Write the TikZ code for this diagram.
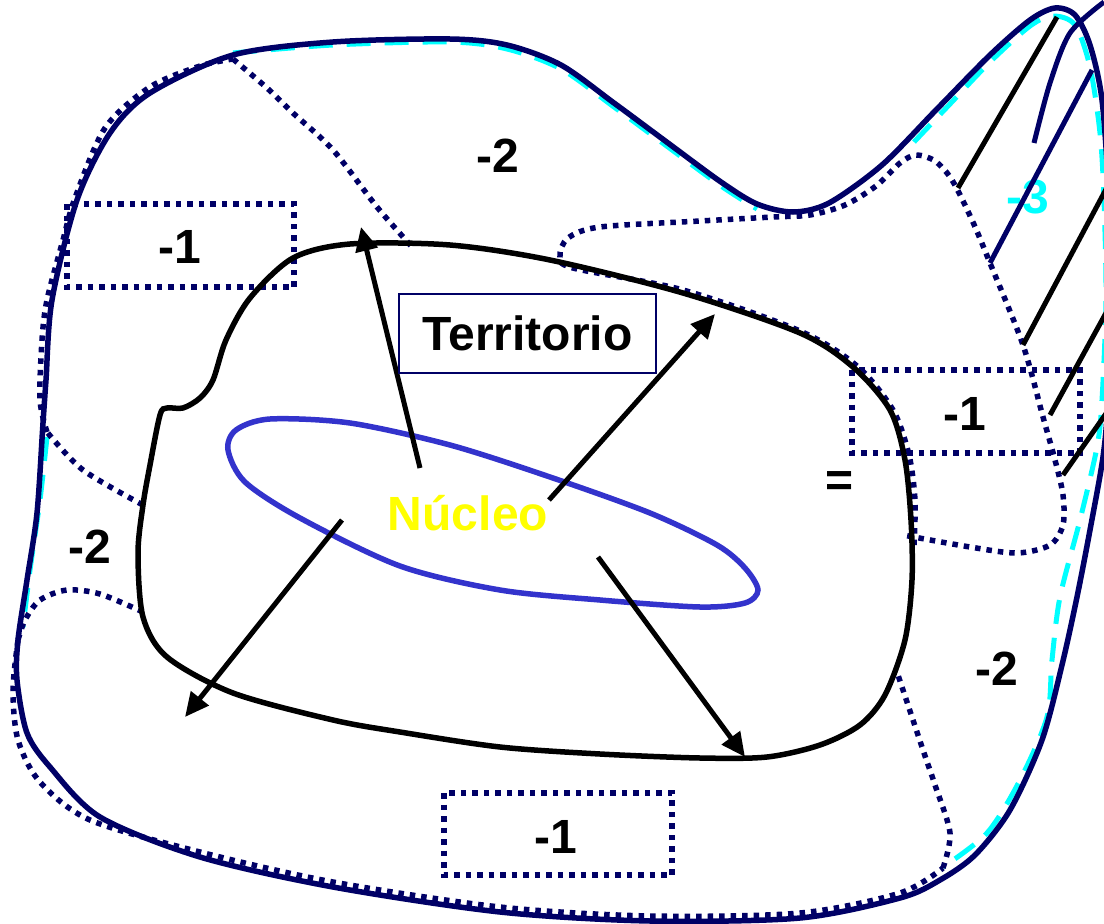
\documentclass[tikz,border=0pt]{standalone}
\usepackage{fontspec}
\setmainfont{Liberation Sans}
\usetikzlibrary{arrows.meta}
\definecolor{navy}{HTML}{000066}
\definecolor{cyn}{HTML}{00FFFF}
\definecolor{nucblue}{HTML}{3333CC}
\definecolor{yel}{HTML}{FFFF00}
\begin{document}
\begin{tikzpicture}[x=1pt,y=-1pt,
  outer/.style={draw=navy,line width=5.5pt},
  cyandash/.style={draw=cyn,line width=5pt,dash pattern=on 24pt off 14pt},
  dots/.style={draw=navy,line width=5.5pt,dash pattern=on 5.5pt off 6pt},
  terr/.style={draw=black,line width=5.5pt},
  hatchk/.style={draw=black,line width=5pt},
  hatchn/.style={draw=navy,line width=5pt},
  arr/.style={draw=black,line width=5pt,-{Triangle[length=24pt,width=22pt]}},
  lbl/.style={font=\fontsize{48}{48}\selectfont\bfseries,inner sep=0pt},
]
\useasboundingbox (0,0) rectangle (1104,924);
\clip (0,0) rectangle (1104,924);
\fill[white] (0,0) rectangle (1104,924);

% cyan dashed boundary pieces
\draw[cyandash] plot[smooth] coordinates {(233,53) (333,45) (450,42) (507,49) (561,69) (614,107) (668,147) (721,186) (757,209)};
\draw[cyandash] plot[smooth] coordinates {(914,142) (950,104) (990,62) (1030,26) (1053,16) (1075,25) (1090,67) (1100,133) (1104,200) (1106,300) (1102,400) (1097,447) (1080,520) (1060,597) (1052,660) (1047,717) (1020,780) (987,833) (943,867)};
\draw[cyandash] plot[smooth] coordinates {(47,437) (40,500) (30,570) (23,627)};

% dotted zone borders
\draw[dots] plot[smooth] coordinates {(143,505) (83,470) (47,432)};
\draw[dots] plot[smooth] coordinates {(47,432) (40,400) (42,340) (47,300) (63,240) (75,198) (105,128) (150,87) (200,66) (233,59)};
\draw[dots] plot[smooth] coordinates {(233,59) (267,88) (293,113) (333,150) (377,207) (413,248)};
\draw[dots] plot[smooth] coordinates {(143,612) (100,594) (67,590) (40,600) (25,620) (18,640)};
\draw[dots] plot[smooth] coordinates {(18,640) (13,690) (18,740) (40,782) (90,820) (200,852) (333,882) (500,907) (650,916) (800,913) (900,893) (943,868)};
\draw[dots] plot[smooth] coordinates {(943,868) (950,833) (935,785) (923,750) (898,675)};
\draw[dots] plot[smooth] coordinates {(914,545) (915,500) (909,455) (893,410) (857,366) (800,331) (683,290) (573,268) (560,256) (568,238) (600,227) (700,221) (773,217) (810,215) (845,205) (876,186) (900,163) (916,155) (935,161) (952,180) (972,220) (990,263) (1023,345) (1043,417) (1055,460) (1063,495) (1063,525) (1050,545) (1017,553) (970,547) (903,535)};

% dotted boxes
\draw[dots] (67,204) rectangle (294,287);
\draw[dots] (852,370) rectangle (1080,453);
\draw[dots] (444,793) rectangle (672,875);

% outer navy boundary
\draw[outer] plot[smooth cycle] coordinates {(233,55) (333,42) (450,39) (507,45) (561,65) (614,103) (668,143) (721,182) (757,204) (793,212) (829,203) (882,165) (936,110) (990,55) (1030,20) (1055,8) (1075,15) (1090,45) (1102,100) (1109,200) (1111,300) (1108,400) (1103,457) (1090,530) (1077,597) (1062,665) (1042,740) (1010,810) (975,855) (940,880) (900,898) (800,918) (650,921) (500,912) (333,887) (200,857) (100,817) (50,767) (27,733) (17,680) (18,640) (27,580) (37,513) (43,423) (46,380) (52,300) (77,200) (110,133) (150,93)};

% -3 label (under the hatch lines)
\node[lbl,anchor=base,text=cyn] (m3) at (1028,213) {-3};

% hatch lines (-3 zone)
\draw[hatchk] (958,188) -- (1057,17);
\draw[hatchn] (990,263) -- (1092,70);
\draw[hatchn] plot[smooth] coordinates {(1034,143) (1050,83) (1070,33) (1104,2)};
\draw[hatchk] (1023,345) -- (1112,178);
\draw[hatchk] (1050,415) -- (1112,302);
\draw[hatchk] (1063,475) -- (1112,405);

% territory outline
\draw[terr] plot[smooth cycle] coordinates {(160,415) (167,408) (183,408) (200,398) (213,380) (226,340) (250,298) (293,258) (350,244) (450,245) (550,260) (683,293) (800,333) (853,367) (890,410) (905,460) (911,520) (912,580) (905,640) (885,695) (860,725) (820,745) (767,757) (700,758) (600,754) (500,747) (400,732) (333,720) (233,693) (167,657) (143,617) (138,553) (143,505) (150,465)};

% nucleus
\draw[draw=nucblue,line width=5.5pt] plot[smooth cycle] coordinates {(228,450) (245,482) (300,518) (400,566) (500,590) (600,600) (700,607) (745,603) (758,590) (745,568) (717,545) (650,513) (550,477) (450,445) (350,423) (270,419) (236,430)};

% arrows
\coordinate (a1s) at (420,468); \coordinate (a1e) at (361,227);
\coordinate (a2s) at (549,500); \coordinate (a2e) at (715,314);
\coordinate (a3s) at (342,520); \coordinate (a3e) at (185,717);
\coordinate (a4s) at (598,557); \coordinate (a4e) at (745,757);
\draw[arr] (a1s) -- (a1e);
\draw[arr] (a2s) -- (a2e);
\draw[arr] (a3s) -- (a3e);
\draw[arr] (a4s) -- (a4e);

% labels
\node[draw=navy,line width=2pt,minimum width=257pt,minimum height=79pt,font=\fontsize{48}{48}\selectfont\bfseries,fill=white] (terrbox) at (527.5,333.5) {Territorio};
\node[lbl,anchor=base,text=yel] (nuc) at (468,530) {Núcleo};
\node[lbl,anchor=base] (m2top) at (498,172) {-2};
\node[lbl,anchor=base] (m1a) at (180,263) {-1};
\node[lbl,anchor=base] (m1b) at (965,430) {-1};
\node[lbl] (eq) at (840,484) {=};
\node[lbl,anchor=base] (m2l) at (90,563) {-2};
\node[lbl,anchor=base] (m2r) at (997,685) {-2};
\node[lbl,anchor=base] (m1c) at (556,853) {-1};
\end{tikzpicture}
\end{document}
